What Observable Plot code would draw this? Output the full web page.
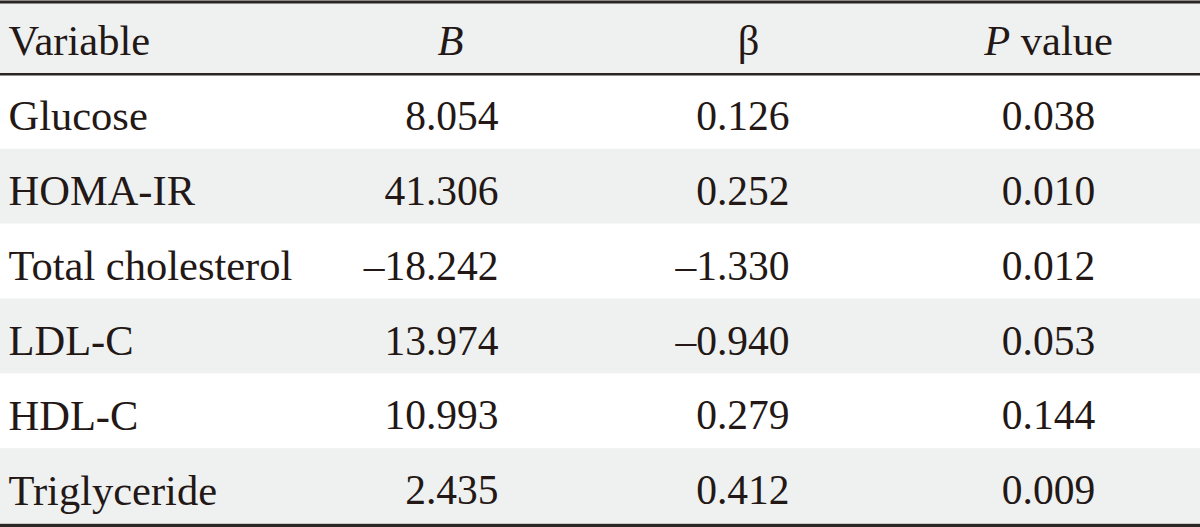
<!DOCTYPE html>
<html>
<head>
<meta charset="utf-8">
<script src="https://cdn.jsdelivr.net/npm/d3@7"></script>
<script src="https://cdn.jsdelivr.net/npm/@observablehq/plot@0.6"></script>
<style>
  html, body { margin: 0; padding: 0; background: #ffffff; }
  #chart svg { display: block; }
</style>
</head>
<body>
<div id="chart"></div>
<script>
// ---- data ----
const headers = ["Variable", "B", "β", "P value"];
const variables = ["Glucose", "HOMA-IR", "Total cholesterol", "LDL-C", "HDL-C", "Triglyceride"];
const bValues = [8.054, 41.306, -18.242, 13.974, 10.993, 2.435];
const betaValues = [0.126, 0.252, -1.330, -0.940, 0.279, 0.412];
const pValues = [0.038, 0.010, 0.012, 0.053, 0.144, 0.009];

// ---- layout (column anchors, in pixels along the table width) ----
const W = 1200, H = 527;
const col = { variable: 8, bHeader: 450, bRight: 498, betaHeader: 748, betaRight: 789, p: 1048 };
const ink = "#231815", ruleColor = "#2b2624", band = "#eff1f1";

const fmt = v => (v < 0 ? "\u2013" : "") + Math.abs(v).toFixed(3);

const rows = variables.map((name, i) => ({
  name, b: bValues[i], beta: betaValues[i], p: pValues[i], row: i + 1
}));
const allRows = [0, ...rows.map(r => r.row)];
const shaded = allRows.filter(r => r % 2 === 0);
const headerRow = headers.map((h, i) => ({ h, i }));

const labelOpts = { fontSize: 42.5, fill: ink, dy: 5, lineAnchor: "middle" };
const numOpts = { fontSize: 41.5, fill: ink, dy: 5, lineAnchor: "middle" };
const yc = d => d.row + 0.5;

const chart = Plot.plot({
  width: W,
  height: H,
  marginTop: 1.5,
  marginBottom: 2,
  marginLeft: 0,
  marginRight: 0,
  style: { fontFamily: "'Liberation Serif', 'DejaVu Serif', serif", background: "#ffffff", color: ink },
  x: { type: "linear", domain: [0, W], range: [0, W], axis: null },
  y: { type: "linear", domain: [0, 7], range: [-1, 523], axis: null },
  marks: [
    Plot.rect(shaded, { y1: d => d, y2: d => d + 1, fill: band }),
    Plot.ruleY([1], { stroke: ruleColor, strokeWidth: 2.5 }),
    Plot.frame({ anchor: "top", stroke: ruleColor, strokeWidth: 3 }),
    Plot.frame({ anchor: "bottom", stroke: ruleColor, strokeWidth: 3.5 }),
    // header
    Plot.text(headerRow.filter(d => d.i === 0), { ...labelOpts, dy: 4, x: () => col.variable, y: () => 0.5, text: d => d.h, textAnchor: "start" }),
    Plot.text(headerRow.filter(d => d.i > 0), {
      ...labelOpts, dy: 4,
      x: d => [0, col.bHeader, col.betaHeader, col.p][d.i],
      y: () => 0.5, text: d => d.h, textAnchor: "middle"
    }),
    // body
    Plot.text(rows, { ...labelOpts, x: () => col.variable, y: yc, text: "name", textAnchor: "start" }),
    Plot.text(rows, { ...numOpts, x: () => col.bRight, y: yc, text: d => fmt(d.b), textAnchor: "end" }),
    Plot.text(rows, { ...numOpts, x: () => col.betaRight, y: yc, text: d => fmt(d.beta), textAnchor: "end" }),
    Plot.text(rows, { ...numOpts, x: () => col.p, y: yc, text: d => fmt(d.p), textAnchor: "middle" })
  ]
});

// italic statistic symbols in the header
chart.querySelectorAll("text").forEach(t => {
  if (t.textContent === "B") t.setAttribute("font-style", "italic");
  if (t.textContent === "P value") {
    t.textContent = "";
    const ns = "http://www.w3.org/2000/svg";
    const a = document.createElementNS(ns, "tspan");
    a.setAttribute("font-style", "italic");
    a.textContent = "P";
    const b = document.createElementNS(ns, "tspan");
    b.textContent = " value";
    t.appendChild(a); t.appendChild(b);
  }
});

document.getElementById("chart").appendChild(chart);
</script>
</body>
</html>
